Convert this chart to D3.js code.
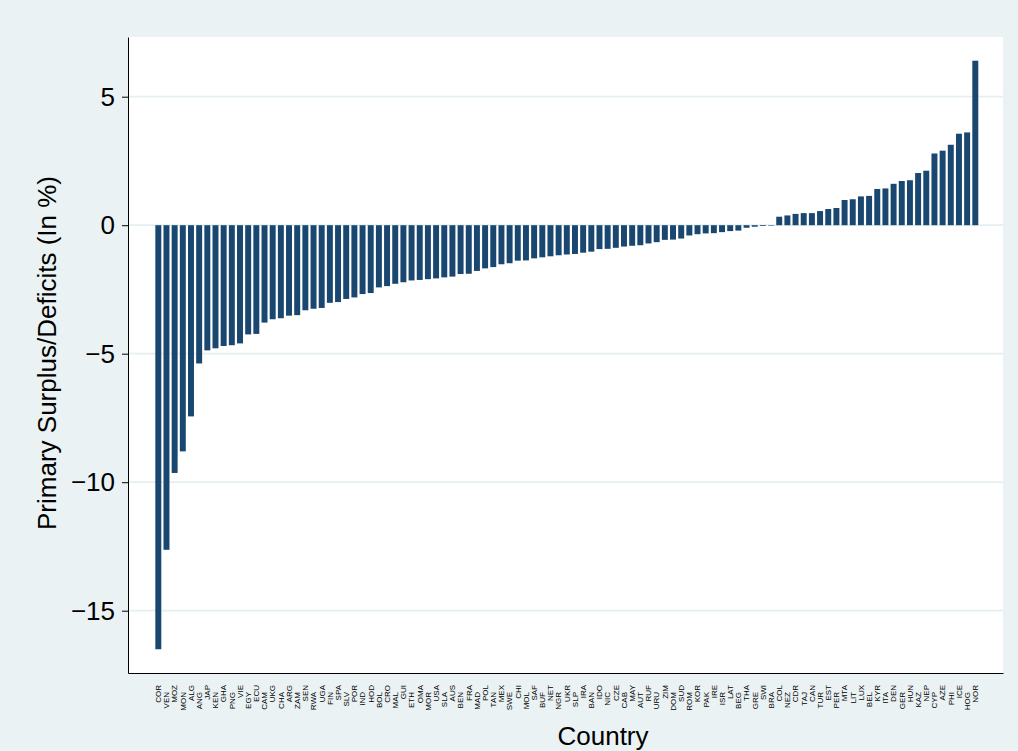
<!DOCTYPE html>
<html>
<head>
<meta charset="utf-8">
<script src="https://cdn.jsdelivr.net/npm/d3@7"></script>
<style>
  body { margin: 0; background: #eaf2f3; }
  svg { display: block; font-family: "Liberation Sans", Arial, sans-serif; }
</style>
</head>
<body>
<div id="chart"></div>
<script>
// countries, sorted by primary balance (% of GDP)
var countries = ["COR","VEN","MOZ","MON","ALG","ANG","JAP","KEN","GHA","PNG","VIE","EGY","ECU","CAM","UKG","CHA","ARG","ZAM","SEN","RWA","UGA","FIN","SPA","SLV","POR","IND","HOD","BOL","CRO","MAL","GUI","ETH","OMA","MOR","USA","SLA","AUS","BEN","FRA","MAD","POL","TAN","MEX","SWE","CHI","MOL","SAF","BUF","NET","NGR","UKR","SLP","IRA","BAN","IDO","NIC","CZE","CAB","MAY","AUT","RUF","URU","ZIM","DOM","SUD","ROM","KOR","PAK","IRE","ISR","LAT","BEG","THA","GRE","SWI","BRA","COL","NEZ","CDR","TAJ","CAN","TUR","EST","PER","MTA","LIT","LUX","BEL","KYR","ITA","DEN","GER","HUN","KAZ","NEP","CYP","AZE","PHI","ICE","HOG","NOR"]
var balance = [-16.5,-12.63,-9.64,-8.8,-7.44,-5.38,-4.87,-4.79,-4.7,-4.67,-4.6,-4.25,-4.23,-3.79,-3.66,-3.62,-3.52,-3.5,-3.31,-3.25,-3.22,-3.02,-2.99,-2.87,-2.81,-2.68,-2.64,-2.42,-2.37,-2.28,-2.22,-2.15,-2.13,-2.1,-2.07,-2.03,-2.0,-1.9,-1.89,-1.78,-1.68,-1.63,-1.52,-1.48,-1.38,-1.37,-1.29,-1.25,-1.21,-1.17,-1.14,-1.12,-1.07,-1.03,-0.93,-0.92,-0.88,-0.83,-0.8,-0.78,-0.71,-0.66,-0.57,-0.56,-0.52,-0.4,-0.35,-0.32,-0.31,-0.27,-0.23,-0.21,-0.1,-0.06,-0.03,-0.02,0.33,0.38,0.44,0.47,0.47,0.55,0.63,0.67,0.98,1.01,1.12,1.14,1.41,1.43,1.61,1.72,1.75,2.03,2.12,2.79,2.9,3.13,3.56,3.61,6.4]
var yTicks = [5, 0, -5, -10, -15]

var width = 1018, height = 751
var plotLeft = 128, plotRight = 1003, plotTop = 37, plotBottom = 673

var svg = d3.select("#chart").append("svg")
    .attr("width", width)
    .attr("height", height)

svg.append("rect")
    .attr("width", width).attr("height", height)
    .attr("fill", "#eaf2f3")

svg.append("rect")
    .attr("x", plotLeft).attr("y", plotTop)
    .attr("width", plotRight - plotLeft).attr("height", plotBottom - plotTop)
    .attr("fill", "#ffffff")

var x = d3.scaleBand()
    .domain(countries)
    .range([plotLeft, plotRight])
    .paddingInner(0.27)
    .paddingOuter(3.185)
    .align(0.525)

var y = d3.scaleLinear()
    .domain([-15, 5])
    .range([610.7, 96.7])
var yTop = y.invert(plotTop), yBottom = y.invert(plotBottom)
y.domain([yBottom, yTop]).range([plotBottom, plotTop])

// grid
svg.append("g")
    .selectAll("line")
    .data(yTicks)
    .enter()
    .append("line")
    .attr("x1", plotLeft).attr("x2", plotRight)
    .attr("y1", (d) => y(d)).attr("y2", (d) => y(d))
    .attr("stroke", "#e6eff0")
    .attr("stroke-width", 1.8)

// bars
svg.append("g")
    .selectAll("rect")
    .data(countries)
    .enter()
    .append("rect")
    .attr("x", (d) => x(d))
    .attr("width", x.bandwidth())
    .attr("y", (d, i) => y(Math.max(0, balance[i])))
    .attr("height", (d, i) => Math.abs(y(balance[i]) - y(0)))
    .attr("fill", "#1a476f")

var fmt = (d) => d < 0 ? "\u2212" + Math.abs(d) : String(d)

var yAxis = svg.append("g")
    .attr("transform", `translate(${plotLeft},0)`)
    .call(d3.axisLeft(y).tickValues(yTicks).tickFormat(fmt).tickSize(6).tickSizeOuter(0).tickPadding(7))
yAxis.selectAll("text")
    .attr("font-size", 26)
    .attr("font-family", "Liberation Sans, Arial, sans-serif")
    .attr("fill", "#000")
yAxis.selectAll("line, path").attr("stroke", "#000")

var xAxis = svg.append("g")
    .attr("transform", `translate(0,${plotBottom})`)
    .call(d3.axisBottom(x).tickSize(0).tickSizeOuter(0))
xAxis.select("path").attr("stroke", "#000").attr("stroke-width", 1.2)
xAxis.selectAll("text")
    .attr("transform", "rotate(-90)")
    .attr("text-anchor", "end")
    .attr("x", (d, i) => i % 2 ? -19 : -12)
    .attr("y", 0)
    .attr("dy", "0.35em")
    .attr("font-size", 8)
    .attr("font-family", "Liberation Sans, Arial, sans-serif")
    .attr("fill", "#000")

svg.append("text")
    .attr("transform", "translate(56,353) rotate(-90)")
    .attr("text-anchor", "middle")
    .attr("font-size", 26)
    .text("Primary Surplus/Deficits (In %)")

svg.append("text")
    .attr("x", 603)
    .attr("y", 745)
    .attr("text-anchor", "middle")
    .attr("font-size", 26)
    .text("Country")
</script>
</body>
</html>
